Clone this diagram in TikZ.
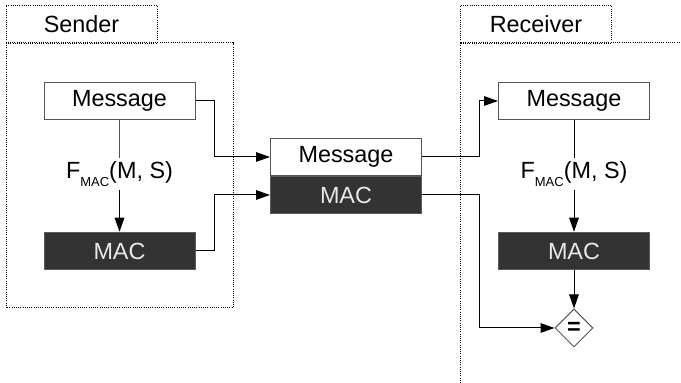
\documentclass[tikz,border=0pt]{standalone}
\usepackage{fontspec}
\setmainfont{Liberation Sans}
\usetikzlibrary{arrows.meta,shapes.geometric}
\definecolor{macfill}{HTML}{333333}
\definecolor{mactext}{HTML}{E8E8E8}
\definecolor{boxline}{HTML}{555555}
\newcommand{\fmac}{F\raisebox{-3.6pt}{\fontsize{6.5}{7}\selectfont MAC}(M, S)}
\begin{document}
\begin{tikzpicture}[x=0.5pt,y=-0.5pt,
  font=\fontsize{11.7}{14}\selectfont,
  msgbox/.style={draw=boxline,line width=0.5pt,fill=white,minimum width=75.5pt,minimum height=18.75pt,inner sep=0pt},
  macbox/.style={draw=macfill!80,line width=0.5pt,fill=macfill,text=mactext,minimum width=75.5pt,minimum height=18.75pt,inner sep=0pt},
  tabbox/.style={draw,line width=0.5pt,dash pattern=on 0.5pt off 0.6pt,minimum width=75.5pt,minimum height=19pt,inner sep=0pt},
  frame/.style={line width=0.5pt,dash pattern=on 0.5pt off 0.6pt},
  arr/.style={line width=0.5pt,-{Triangle[length=7pt,width=4.8pt]}},
  lnk/.style={line width=0.5pt}]
\useasboundingbox (0,0) rectangle (681,383);

\draw[frame] (6,43) rectangle (233,308);
\node[tabbox] (stab) at (81.5,24.5) {Sender};
\draw[frame] (460,383) -- (460,43) -- (681,43);
\node[tabbox] (rtab) at (536,24.5) {Receiver};

\node[msgbox] (smsg) at (119.5,101) {Message};
\node[inner sep=1.5pt] (sfun) at (119.5,174) {\fmac};
\node[macbox] (smac) at (119.5,251) {MAC};

\node[msgbox] (mmsg) at (346,157) {Message};
\node[macbox] (mmac) at (346,195) {MAC};

\node[msgbox] (rmsg) at (574,101) {Message};
\node[inner sep=1.5pt] (rfun) at (574,174) {\fmac};
\node[macbox] (rmac) at (574,251) {MAC};
\node[diamond,draw=boxline,line width=0.5pt,minimum width=19pt,minimum height=19pt,inner sep=0pt] (eq) at (574,328) {\textbf{=}};

\draw[lnk,draw=boxline] (smsg) -- (sfun);
\draw[arr] (sfun) -- (smac);
\draw[arr] (smsg.east) -- ++(19,0) |- (mmsg.west);
\draw[arr] (smac.east) -- ++(19,0) |- (mmac.west);

\draw[arr] (mmsg.east) -- ++(57,0) |- (rmsg.west);
\draw[arr] (mmac.east) -- ++(57,0) |- (eq.west);

\draw[lnk] (rmsg) -- (rfun);
\draw[arr] (rfun) -- (rmac);
\draw[arr] (rmac) -- (eq);

\end{tikzpicture}
\end{document}
